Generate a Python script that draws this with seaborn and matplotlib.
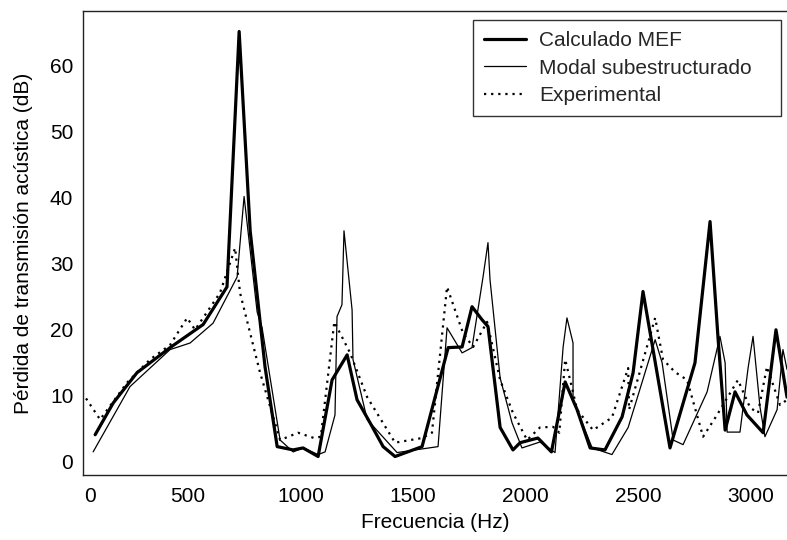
import matplotlib
matplotlib.use("Agg")
import matplotlib.pyplot as plt
import seaborn as sns
import pandas as pd

# --- data ---
mef_f = [87, 167, 273, 420, 567, 673, 727, 776, 842, 896, 967, 1011, 1078, 1140, 1207, 1251,
         1309, 1367, 1420, 1540, 1656, 1718, 1762, 1807, 1833, 1887, 1944, 1976, 2055, 2115,
         2176, 2229, 2287, 2353, 2429, 2478, 2522, 2642, 2753, 2820, 2856, 2887, 2931, 2984,
         3056, 3113, 3162]
mef_db = [4.1, 8.9, 13.5, 17.3, 20.8, 26.5, 65.2, 35.0, 14.4, 2.3, 1.8, 2.1, 0.8, 12.4, 16.2, 9.4,
          5.9, 2.3, 0.8, 2.3, 17.3, 17.4, 23.5, 21.5, 20.5, 5.2, 1.8, 2.9, 3.6, 1.5,
          12.1, 7.9, 2.1, 1.8, 6.8, 13.5, 25.8, 2.1, 15.0, 36.4, 18.5, 4.8, 10.6, 7.1,
          4.4, 20.0, 9.8]

modal_f = [78, 242, 420, 509, 611, 718, 749, 807, 829, 909, 967, 1011, 1078, 1109, 1153, 1162,
           1184, 1193, 1229, 1233, 1296, 1429, 1611, 1651, 1718, 1762, 1811, 1833, 1842, 1887,
           1940, 1984, 2064, 2131, 2167, 2184, 2211, 2211, 2296, 2384, 2456, 2576, 2607, 2656,
           2700, 2807, 2864, 2887, 2896, 2953, 2989, 3011, 3042, 3064, 3118, 3144, 3162]
modal_db = [1.5, 11.4, 17.0, 18.0, 21.0, 28.0, 40.2, 22.7, 20.3, 3.3, 1.5, 2.1, 1.1, 1.5, 7.1, 22.0,
            23.8, 35.0, 23.0, 15.5, 6.4, 1.4, 2.3, 20.3, 16.5, 17.3, 28.0, 33.2, 27.6, 12.7,
            5.9, 2.1, 3.0, 1.4, 17.4, 21.8, 18.0, 9.4, 2.1, 1.1, 5.2, 18.5, 15.0, 3.3,
            2.6, 10.6, 19.0, 15.0, 4.5, 4.5, 14.2, 19.0, 8.3, 3.8, 7.9, 17.0, 14.0]

exp_f = [29, 109, 229, 331, 420, 496, 531, 642, 709, 731, 820, 909, 989, 1060, 1090, 1150,
         1220, 1296, 1420, 1540, 1584, 1651, 1722, 1767, 1829, 1887, 1944, 2007, 2064, 2122,
         2150, 2176, 2198, 2229, 2300, 2384, 2456, 2460, 2576, 2611, 2664, 2718, 2789, 2851,
         2944, 2998, 3033, 3073, 3131, 3162]
exp_db = [10.5, 6.4, 12.0, 15.5, 17.7, 21.8, 20.0, 25.6, 32.4, 25.6, 13.5, 3.3, 4.4, 3.6, 3.8, 21.2,
          16.5, 9.8, 2.9, 3.6, 4.4, 26.5, 19.5, 17.4, 21.2, 12.4, 7.4, 3.3, 5.2, 5.3,
          4.4, 15.5, 12.4, 7.9, 4.8, 6.7, 14.2, 7.9, 21.8, 15.5, 13.6, 12.4, 3.8, 7.1,
          12.4, 8.2, 7.4, 14.4, 8.6, 9.4]

series_names = ["Calculado MEF", "Modal subestructurado", "Experimental"]
xtick_pos = [64, 500, 1000, 1500, 2000, 2500, 3000]
xtick_labels = ["0", "500", "1000", "1500", "2000", "2500", "3000"]
ytick_vals = [0, 10, 20, 30, 40, 50, 60]

sns.set_theme(style="white")
plt.rcParams["font.family"] = ["Liberation Sans", "DejaVu Sans"]

FS = 15

fig = plt.figure(figsize=(7.87, 5.40), dpi=100)
ax = fig.add_axes([83 / 787, 1 - 475 / 540, 1.0 - 83 / 787, (475 - 11) / 540])

df_mef = pd.DataFrame({"f": mef_f, "db": mef_db})
df_mod = pd.DataFrame({"f": modal_f, "db": modal_db})
df_exp = pd.DataFrame({"f": exp_f, "db": exp_db})

sns.lineplot(data=df_mef, x="f", y="db", ax=ax, color="black", lw=2.3,
             estimator=None, sort=False, label=series_names[0])
sns.lineplot(data=df_mod, x="f", y="db", ax=ax, color="black", lw=0.9,
             estimator=None, sort=False, label=series_names[1])
sns.lineplot(data=df_exp, x="f", y="db", ax=ax, color="black", lw=1.6,
             linestyle=(0, (1, 2.2)), estimator=None, sort=False, label=series_names[2])

ax.set_xlim(33, 3162)
ax.set_ylim(-2, 68.3)
ax.set_xticks(xtick_pos)
ax.set_xticklabels(xtick_labels)
ax.set_yticks(ytick_vals)
ax.tick_params(axis="x", length=0, labelsize=FS, colors="black", pad=9)
ax.tick_params(axis="y", length=0, labelsize=FS, colors="black", pad=7)
ax.set_xlabel("Frecuencia (Hz)", fontsize=FS, color="black", labelpad=5)
ax.set_ylabel("Pérdida de transmisión acústica (dB)", fontsize=FS, color="black", labelpad=12)

for side in ["left", "bottom", "top"]:
    ax.spines[side].set_color("#222222")
    ax.spines[side].set_linewidth(1.0)
ax.spines["right"].set_visible(False)

# legend box spanning 473..781 px horizontally, top at 20 px
lx0, lx1, ltop = 473 / 787, 781 / 787, 1 - 20 / 540
leg = ax.legend(loc="upper left", bbox_to_anchor=(lx0, ltop - 0.2, lx1 - lx0, 0.2),
                bbox_transform=fig.transFigure, mode="expand", borderaxespad=0,
                frameon=True, fancybox=False, shadow=False, fontsize=FS,
                handlelength=2.0, handletextpad=0.65, labelspacing=0.42, borderpad=0.52)
leg.get_frame().set_edgecolor("black")
leg.get_frame().set_linewidth(1.0)

fig.savefig("out.png", dpi=100)
